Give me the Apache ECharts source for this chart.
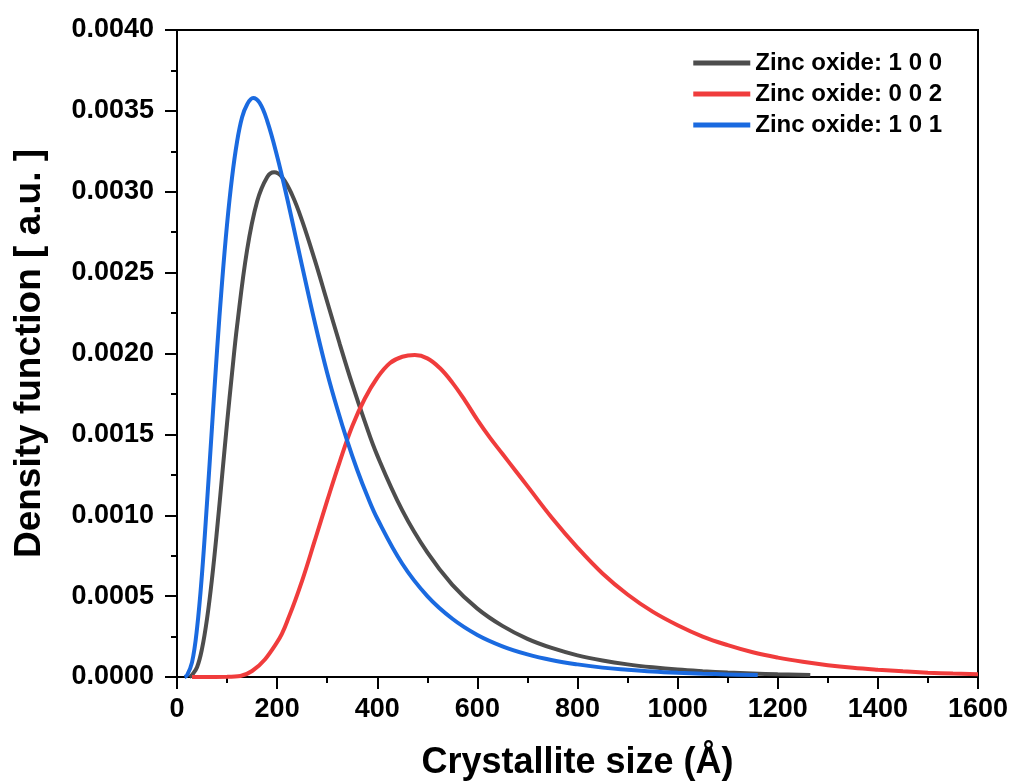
<!DOCTYPE html>
<html>
<head>
<meta charset="utf-8">
<script src="https://cdn.jsdelivr.net/npm/echarts@6/dist/echarts.min.js"></script>
<style>
  html, body { margin: 0; padding: 0; background: #fff; }
  #chart { width: 1011px; height: 782px; }
</style>
</head>
<body>
<div id="chart"></div>
<script>
const SERIES_NAMES = ['Zinc oxide: 1 0 0', 'Zinc oxide: 0 0 2', 'Zinc oxide: 1 0 1'];

// Zinc oxide 1 0 0 (grey)
const sizes100 = [25, 30, 40, 50, 60, 70, 80, 90, 100, 110, 120, 140, 160, 180, 194, 210, 230, 250, 275, 300,
  325, 350, 375, 400, 450, 500, 550, 600, 650, 700, 750, 800, 850, 900, 950, 1000, 1050, 1100, 1150, 1200, 1265];
const density100 = [0, 0.000013, 0.00006, 0.000175, 0.00036, 0.00061, 0.00091, 0.00124, 0.00157, 0.00188,
  0.00217, 0.00264, 0.00294, 0.00309, 0.00312, 0.00309, 0.00298, 0.00282, 0.00258, 0.00232,
  0.00206, 0.00181, 0.00158, 0.00137, 0.00103, 0.00077, 0.00057, 0.000423, 0.000316, 0.000236,
  0.000178, 0.000134, 0.000102, 0.000078, 0.00006, 0.000046, 0.000036, 0.000028, 0.000022, 0.000017, 0.000013];

// Zinc oxide 0 0 2 (red)
const sizes002 = [30, 100, 150, 200, 225, 250, 275, 300, 325, 350, 375, 400, 425, 450, 475, 500, 525, 550, 575,
  600, 625, 650, 675, 700, 750, 800, 850, 900, 950, 1000, 1050, 1100, 1150, 1200, 1250, 1300, 1350, 1400,
  1450, 1500, 1550, 1600];
const density002 = [0, 0.000001, 0.000037, 0.000215, 0.000383, 0.000596, 0.000841, 0.00109, 0.00133, 0.00155,
  0.00172, 0.00185, 0.00194, 0.00198, 0.00199, 0.00197, 0.00191, 0.00182, 0.00171,
  0.00159, 0.00148, 0.00138, 0.00128, 0.00118, 0.00098, 0.0008, 0.00064, 0.00051, 0.000404, 0.00032,
  0.00025, 0.000197, 0.000153, 0.00012, 0.000094, 0.000073, 0.000057, 0.000045,
  0.000035, 0.000027, 0.000021, 0.000017];

// Zinc oxide 1 0 1 (blue)
const sizes101 = [15, 20, 30, 40, 50, 60, 70, 80, 90, 100, 110, 120, 130, 140, 152, 165, 180, 200, 220, 240,
  260, 280, 300, 320, 340, 360, 380, 400, 450, 500, 550, 600, 650, 700, 750, 800, 850, 900, 950, 1000,
  1050, 1100, 1160];
const density101 = [0, 0.00001, 0.00009, 0.0003, 0.00064, 0.00108, 0.00155, 0.00202, 0.00244, 0.0028, 0.00309,
  0.00331, 0.00346, 0.00354, 0.00358, 0.00355, 0.00344, 0.00322, 0.00296, 0.00268,
  0.0024, 0.00213, 0.00188, 0.00166, 0.00146, 0.00128, 0.00112, 0.00098, 0.0007, 0.0005, 0.00036,
  0.00026, 0.00019, 0.00014, 0.000104, 0.000078, 0.000058, 0.000045, 0.000034, 0.000026,
  0.00002, 0.000016, 0.000012];

const COLORS = ['#4d4d4d', '#f03c3c', '#1a6ae0'];
const FONT = '"Liberation Sans", Arial, sans-serif';

const pairs = (xs, ys) => xs.map((x, i) => [x, ys[i]]);

const chart = echarts.init(document.getElementById('chart'));

function lineSeries(name, data, color) {
  return {
    name: name,
    type: 'line',
    data: data,
    smooth: 0.4,
    symbol: 'none',
    clip: false,
    lineStyle: { color: color, width: 4 },
    itemStyle: { color: color }
  };
}

const axisLine = { show: true, onZero: false, lineStyle: { color: '#000', width: 2 } };

chart.setOption({
  backgroundColor: '#fff',
  animation: false,
  grid: {
    left: 177,
    right: 33,
    top: 30,
    bottom: 105,
    containLabel: false,
    outerBoundsMode: 'none',
    show: true,
    borderColor: '#000',
    borderWidth: 2
  },
  legend: {
    orient: 'vertical',
    right: 64,
    top: 46,
    itemWidth: 57,
    itemHeight: 5,
    itemGap: 7,
    icon: 'rect',
    textStyle: { fontFamily: FONT, fontWeight: 'bold', fontSize: 24, color: '#000' },
    data: SERIES_NAMES
  },
  xAxis: {
    type: 'value',
    min: 0,
    max: 1600,
    interval: 200,
    name: 'Crystallite size (Å)',
    nameLocation: 'middle',
    nameGap: 68,
    nameTextStyle: { fontFamily: FONT, fontWeight: 'bold', fontSize: 36, color: '#000' },
    axisLine: axisLine,
    axisTick: { show: true, inside: false, length: 12, lineStyle: { color: '#000', width: 2 } },
    minorTick: { show: true, splitNumber: 2, length: 6, lineStyle: { color: '#000', width: 2 } },
    axisLabel: {
      fontFamily: FONT, fontWeight: 'bold', fontSize: 27, color: '#000', margin: 19,
      formatter: v => String(v)
    },
    splitLine: { show: false }
  },
  yAxis: {
    type: 'value',
    min: 0,
    max: 0.004,
    interval: 0.0005,
    name: 'Density function [ a.u. ]',
    nameLocation: 'middle',
    nameGap: 129,
    nameTextStyle: { fontFamily: FONT, fontWeight: 'bold', fontSize: 37, color: '#000' },
    axisLine: axisLine,
    axisTick: { show: true, inside: false, length: 12, lineStyle: { color: '#000', width: 2 } },
    minorTick: { show: true, splitNumber: 2, length: 6, lineStyle: { color: '#000', width: 2 } },
    axisLabel: {
      fontFamily: FONT, fontWeight: 'bold', fontSize: 27, color: '#000', margin: 23,
      formatter: v => v.toFixed(4)
    },
    splitLine: { show: false }
  },
  series: [
    lineSeries(SERIES_NAMES[0], pairs(sizes100, density100), COLORS[0]),
    lineSeries(SERIES_NAMES[1], pairs(sizes002, density002), COLORS[1]),
    lineSeries(SERIES_NAMES[2], pairs(sizes101, density101), COLORS[2])
  ]
});
</script>
</body>
</html>
